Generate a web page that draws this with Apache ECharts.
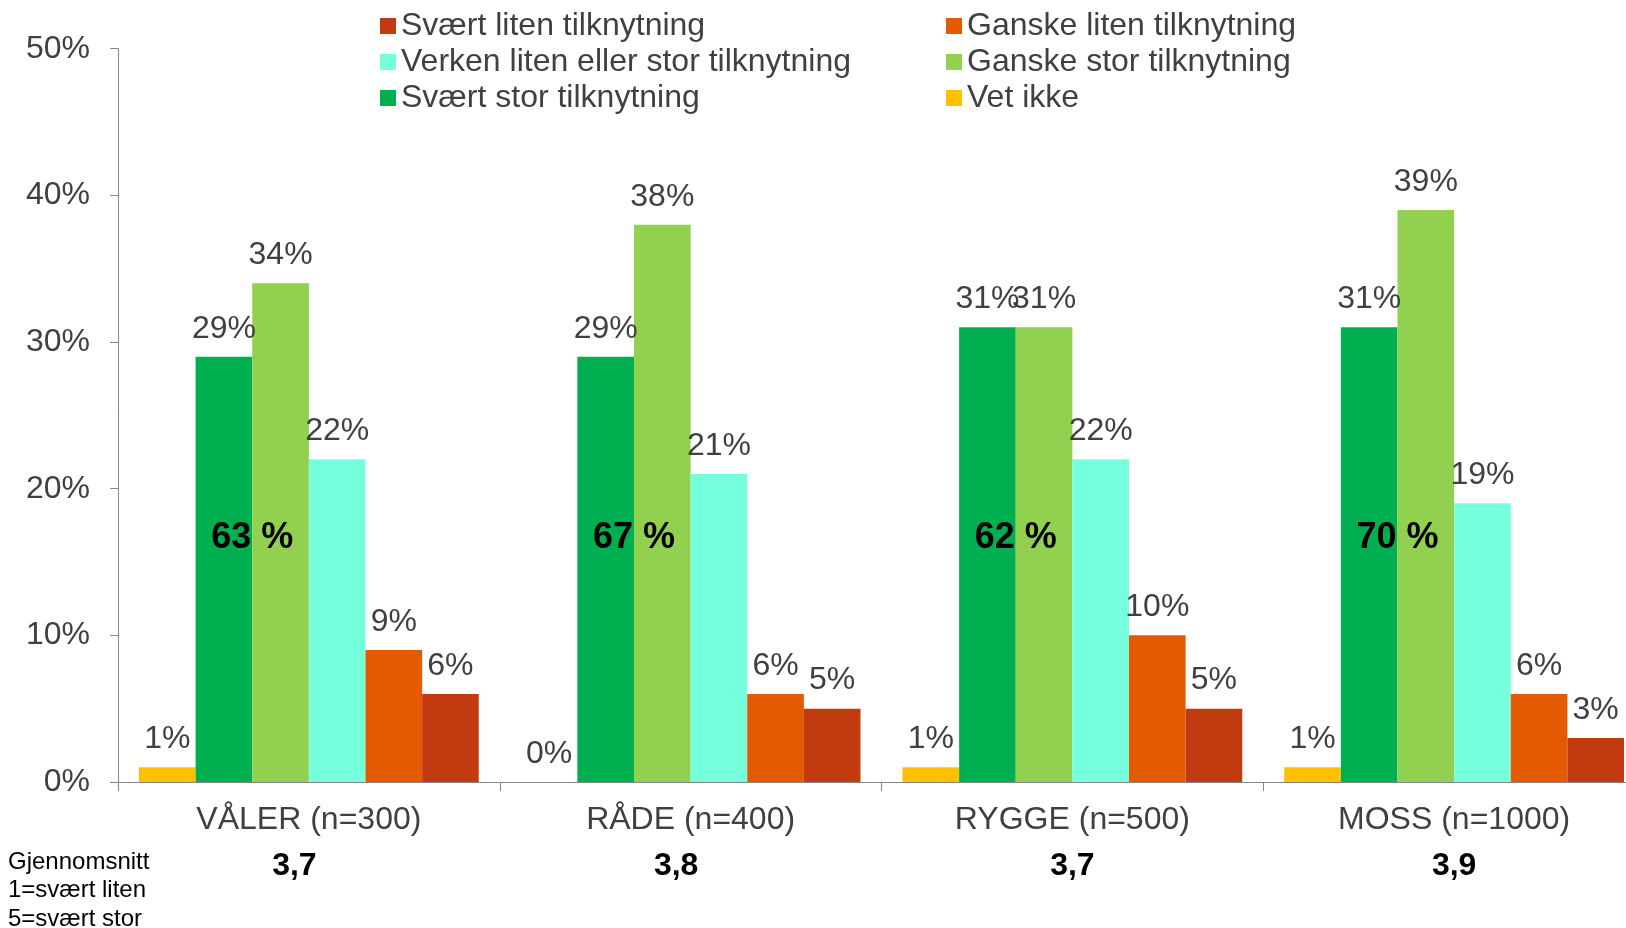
<!DOCTYPE html>
<html>
<head>
<meta charset="utf-8">
<script src="https://cdn.jsdelivr.net/npm/echarts@6/dist/echarts.min.js"></script>
<style>
html,body{margin:0;padding:0;background:#fff;overflow:hidden;width:1626px;height:928px;}
#chart{width:1645px;height:928px;}
</style>
</head>
<body>
<div id="chart"></div>
<script>
const categories = ['VÅLER (n=300)', 'RÅDE (n=400)', 'RYGGE (n=500)', 'MOSS (n=1000)'];
const averages = ['3,7', '3,8', '3,7', '3,9'];
const vetIkke = [1, 0, 1, 1];
const svaertStor = [29, 29, 31, 31];
const ganskeStor = [34, 38, 31, 39];
const verken = [22, 21, 22, 19];
const ganskeLiten = [9, 6, 10, 6];
const svaertLiten = [6, 5, 5, 3];
const totalStor = [63, 67, 62, 70];
const totalLabelLevel = 16.6;
const yTicks = [0, 10, 20, 30, 40, 50];

const FONT = "'Liberation Sans', Arial, sans-serif";
const TXT = '#404040';
const catGap = 0.11;

function barSeries(name, data, color) {
  return {
    name: name, type: 'bar', data: data, barGap: '0%', barCategoryGap: '11%',
    itemStyle: { color: color },
    label: { show: true, position: 'top', distance: 12, formatter: '{c}%',
      fontFamily: FONT, fontSize: 32, color: TXT }
  };
}

const chart = echarts.init(document.getElementById('chart'));
chart.setOption({
  animation: false,
  textStyle: { fontFamily: FONT },
  title: {
    text: 'Gjennomsnitt\n1=svært liten\n5=svært stor',
    left: 8, top: 848, padding: 0,
    textStyle: { fontFamily: FONT, fontSize: 24, fontWeight: 'normal', color: '#000', lineHeight: 28.5 }
  },
  legend: [
    { orient: 'vertical', left: 380, top: 10, padding: 0, itemGap: 4, itemWidth: 16, itemHeight: 16,
      icon: 'rect', data: ['Svært liten tilknytning', 'Verken liten eller stor tilknytning', 'Svært stor tilknytning'],
      textStyle: { fontFamily: FONT, fontSize: 32, color: TXT, lineHeight: 32 } },
    { orient: 'vertical', left: 946, top: 10, padding: 0, itemGap: 4, itemWidth: 16, itemHeight: 16,
      icon: 'rect', data: ['Ganske liten tilknytning', 'Ganske stor tilknytning', 'Vet ikke'],
      textStyle: { fontFamily: FONT, fontSize: 32, color: TXT, lineHeight: 32 } }
  ],
  grid: { left: 118, right: 0, top: 48.7, bottom: 146, containLabel: false },
  xAxis: {
    type: 'category', data: categories,
    axisLine: { lineStyle: { color: '#868686', width: 1 } },
    axisTick: { show: true, length: 9, lineStyle: { color: '#868686' } },
    axisLabel: {
      margin: 15,
      formatter: function (v, i) { return '{a|' + v + '}\n{' + (i < 2 ? 'c' : 'b') + '|' + averages[i] + '}'; },
      rich: {
        a: { fontFamily: FONT, fontSize: 32, color: TXT, lineHeight: 46 },
        b: { fontFamily: FONT, fontSize: 32, fontWeight: 'bold', color: '#000', lineHeight: 46 },
        c: { fontFamily: FONT, fontSize: 32, fontWeight: 'bold', color: '#000', lineHeight: 46, padding: [0, 29, 0, 0] }
      }
    }
  },
  yAxis: {
    type: 'value', min: yTicks[0], max: yTicks[yTicks.length - 1], interval: 10,
    splitLine: { show: false },
    axisLine: { show: true, lineStyle: { color: '#868686', width: 1 } },
    axisTick: { show: true, length: 8, lineStyle: { color: '#868686' } },
    axisLabel: { margin: 28, formatter: '{value}%', fontFamily: FONT, fontSize: 32, color: TXT }
  },
  series: [
    barSeries('Vet ikke', vetIkke, '#FFC000'),
    barSeries('Svært stor tilknytning', svaertStor, '#00B050'),
    barSeries('Ganske stor tilknytning', ganskeStor, '#92D050'),
    barSeries('Verken liten eller stor tilknytning', verken, '#76FFDC'),
    barSeries('Ganske liten tilknytning', ganskeLiten, '#E35A00'),
    barSeries('Svært liten tilknytning', svaertLiten, '#C23A10'),
    {
      name: 'total', type: 'custom', z: 10,
      data: totalStor.map((t, i) => [i, totalLabelLevel, t]),
      renderItem: function (params, api) {
        const c = api.coord([api.value(0), api.value(1)]);
        const bw = api.size([1, 0])[0] * (1 - catGap) / 6;
        return {
          type: 'text', x: c[0] - bw, y: c[1],
          style: { text: api.value(2) + ' %', fill: '#000', fontFamily: FONT,
            fontSize: 36, fontWeight: 'bold', align: 'center', verticalAlign: 'middle' }
        };
      }
    }
  ]
});
</script>
</body>
</html>
